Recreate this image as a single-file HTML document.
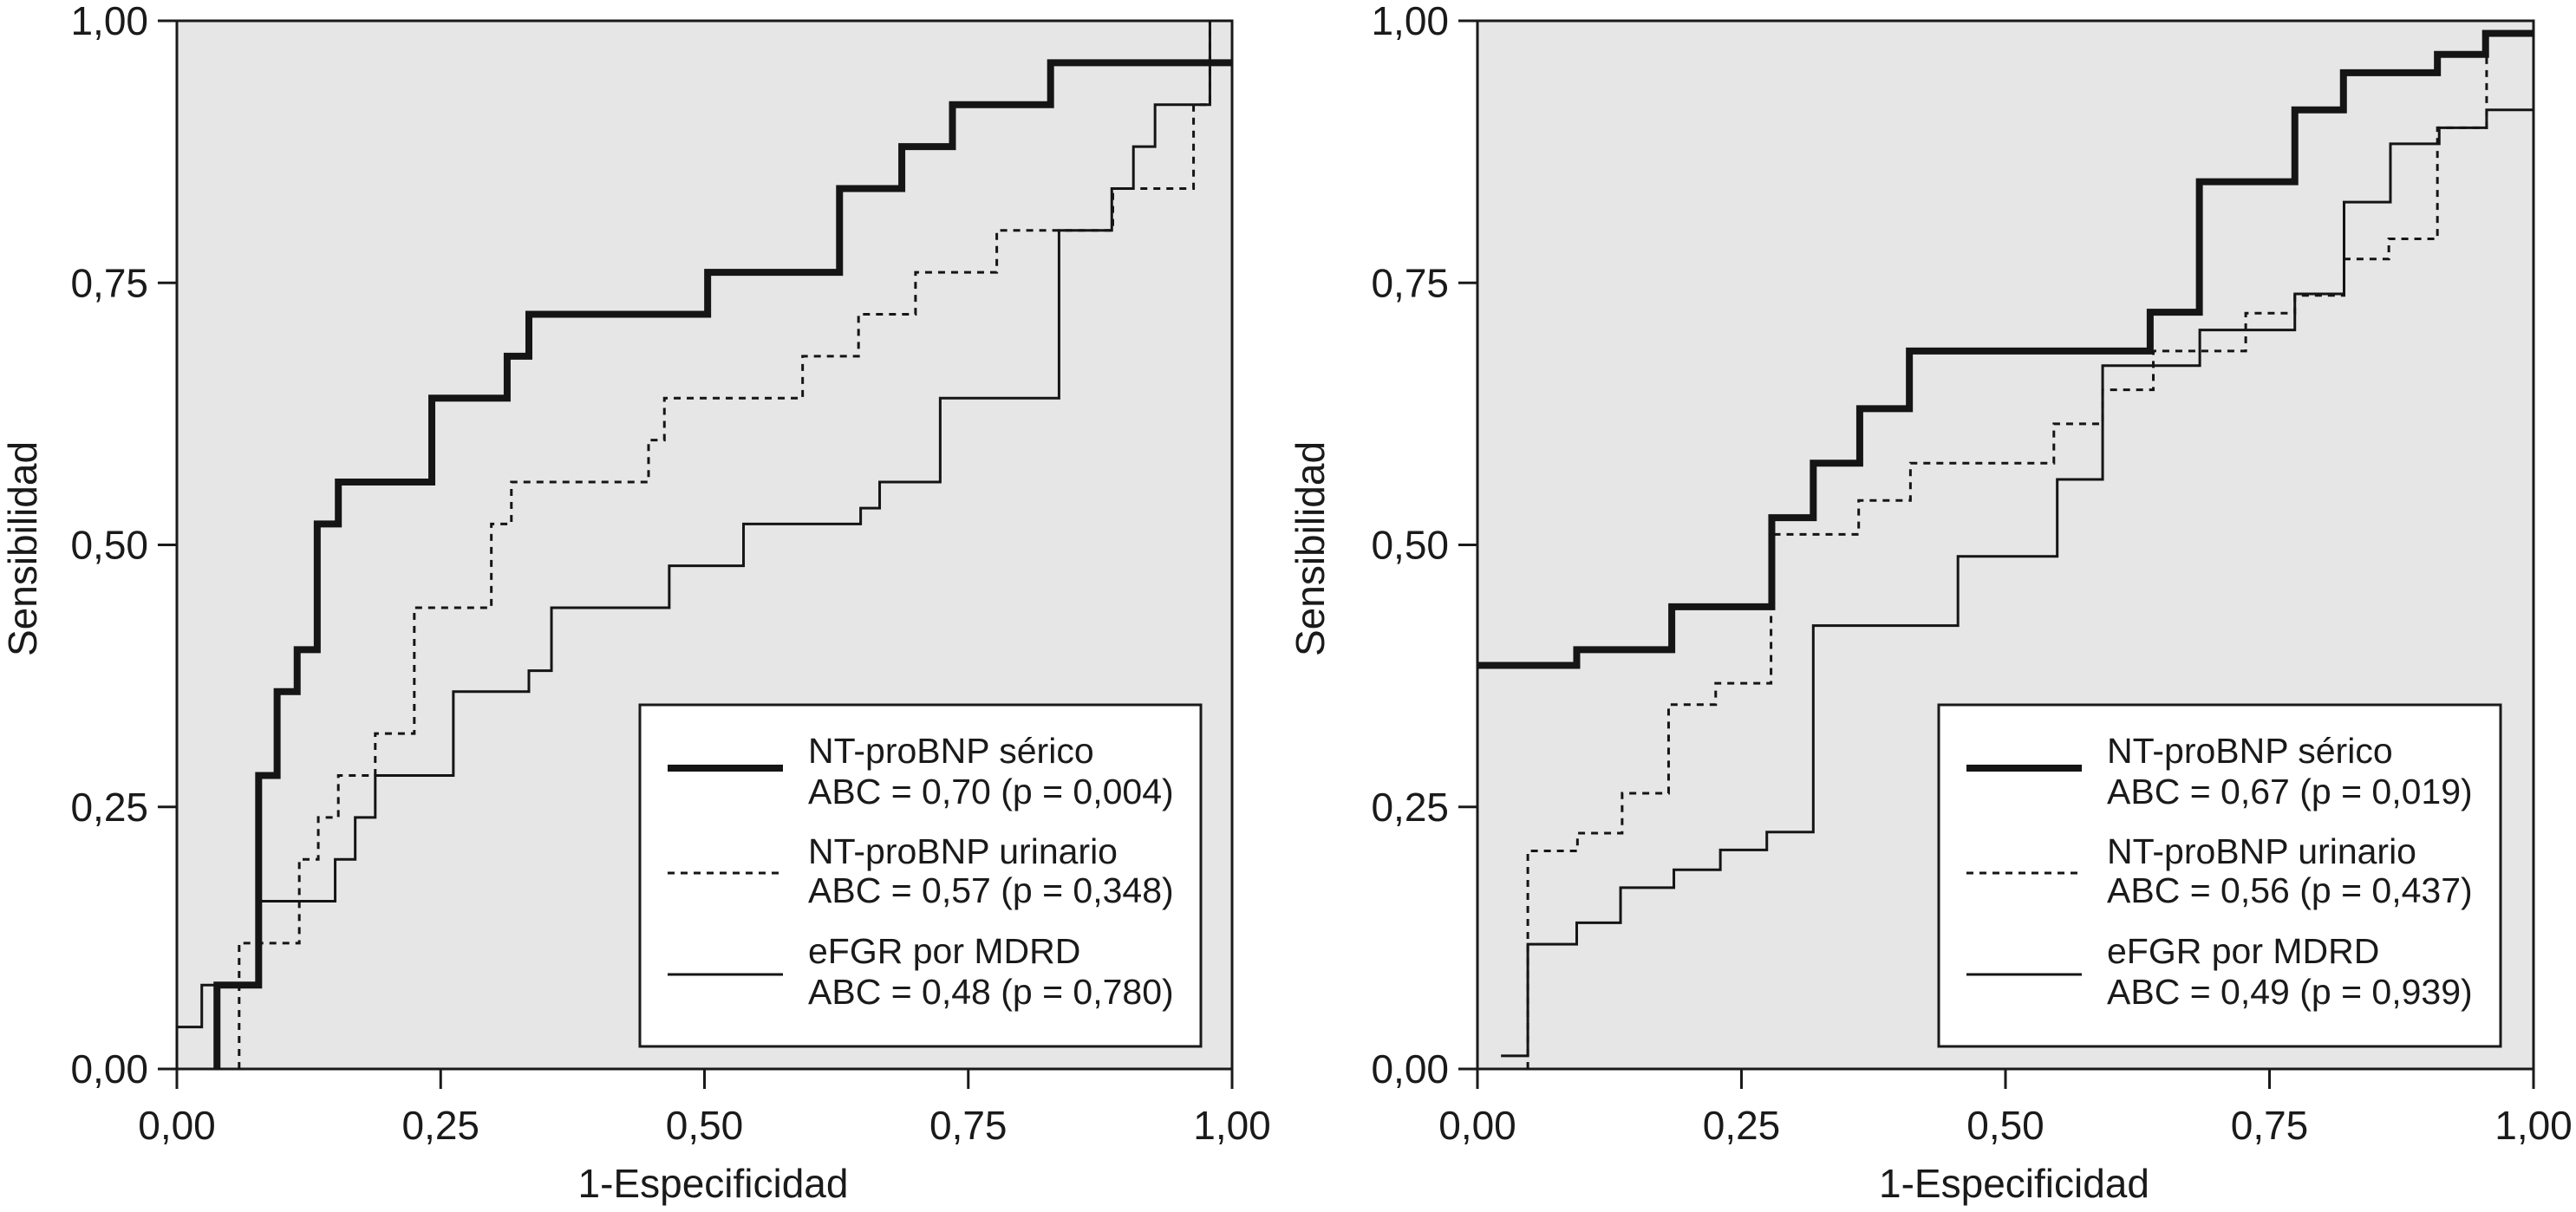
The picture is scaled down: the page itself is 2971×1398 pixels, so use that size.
<!DOCTYPE html>
<html><head><meta charset="utf-8">
<style>
html,body{margin:0;padding:0;background:#fff;}
svg{display:block;font-family:"Liberation Sans",Arial,sans-serif;}
</style></head>
<body>
<svg id="chart" width="2971" height="1398" viewBox="0 0 2971 1398" xmlns="http://www.w3.org/2000/svg"></svg>
<script>
// ---- Data (fractions) ----
const tickValues = [0, 0.25, 0.5, 0.75, 1];
const tickLabels = ["0,00", "0,25", "0,50", "0,75", "1,00"];

// Left panel
const L_sericoX = [0.038,0.0775,0.095,0.114,0.133,0.153,0.2416,0.313,0.3336,0.503,0.628,0.687,0.735,0.828];
const L_sericoY = [0.08,0.28,0.36,0.40,0.52,0.56,0.64,0.68,0.72,0.76,0.84,0.88,0.92,0.96];
const L_urinX = [0.059,0.116,0.134,0.153,0.188,0.225,0.298,0.317,0.447,0.462,0.593,0.646,0.70,0.777,0.887,0.9635,0.979];
const L_urinY = [0.12,0.20,0.24,0.28,0.32,0.44,0.52,0.56,0.60,0.64,0.68,0.72,0.76,0.80,0.84,0.92,1.0];
const L_efgrX = [0.0,0.0236,0.0775,0.150,0.169,0.188,0.262,0.3336,0.355,0.4666,0.537,0.648,0.666,0.7234,0.836,0.886,0.9065,0.927,0.979];
const L_efgrY = [0.04,0.08,0.16,0.20,0.24,0.28,0.36,0.38,0.44,0.48,0.52,0.535,0.56,0.64,0.80,0.84,0.88,0.92,1.0];

// Right panel
const R_sericoX = [0.0,0.094,0.184,0.2787,0.318,0.362,0.409,0.637,0.6836,0.774,0.820,0.909,0.9546];
const R_sericoY = [0.385,0.40,0.441,0.526,0.578,0.63,0.685,0.722,0.8465,0.915,0.9505,0.968,0.988];
const R_urinX = [0.0477,0.0947,0.137,0.181,0.2256,0.278,0.361,0.41,0.5458,0.592,0.64,0.7275,0.774,0.8206,0.863,0.909,0.9556];
const R_urinY = [0.208,0.225,0.263,0.3476,0.368,0.51,0.5424,0.578,0.6155,0.648,0.685,0.721,0.738,0.7727,0.792,0.898,0.988];
const R_efgrX = [0.0223,0.0477,0.094,0.1355,0.186,0.230,0.274,0.318,0.455,0.549,0.592,0.684,0.774,0.8206,0.8645,0.9107,0.9556];
const R_efgrY = [0.0125,0.119,0.1395,0.173,0.19,0.209,0.226,0.423,0.489,0.5624,0.671,0.705,0.7395,0.827,0.8827,0.898,0.915];

const seriesNames = ["NT-proBNP sérico","NT-proBNP urinario","eFGR por MDRD"];
const L_abc = ["ABC = 0,70 (p = 0,004)","ABC = 0,57 (p = 0,348)","ABC = 0,48 (p = 0,780)"];
const R_abc = ["ABC = 0,67 (p = 0,019)","ABC = 0,56 (p = 0,437)","ABC = 0,49 (p = 0,939)"];

const NS = "http://www.w3.org/2000/svg";
const svg = document.getElementById("chart");
function el(tag, attrs, parent){ const e=document.createElementNS(NS,tag); for(const k in attrs) e.setAttribute(k,attrs[k]); (parent||svg).appendChild(e); return e; }

const styles = [
  {w:8, dash:null},
  {w:3, dash:"8,7"},
  {w:3, dash:null}
];

function panel(id, x0, x1, y0, y1, curves, abc, leg, ytitleX){
  const g = el("g",{});
  
  
  const sx = v => x0 + v*(x1-x0);
  const sy = v => y0 - v*(y0-y1);
  const bg = el("rect",{x:x0,y:y1,width:x1-x0,height:y0-y1,fill:"#e6e6e6",stroke:"#1a1a1a","stroke-width":3},g);
  
  
  tickValues.forEach((t,i)=>{
    const ty = sy(t), tx = sx(t);
    const a = el("line",{x1:x0-22,x2:x0,y1:ty,y2:ty,stroke:"#1a1a1a","stroke-width":3},g);
    
    
    const b = el("line",{x1:tx,x2:tx,y1:y0,y2:y0+23,stroke:"#1a1a1a","stroke-width":3},g);
    
    
    const yl = el("text",{x:x0-33,y:ty+16,"font-size":46,"text-anchor":"end",fill:"#1a1a1a"},g);
    yl.textContent = tickLabels[i];
    
    
    const xl = el("text",{x:tx,y:y0+81,"font-size":46,"text-anchor":"middle",fill:"#1a1a1a"},g);
    xl.textContent = tickLabels[i];
    
    
  });
  const xt = el("text",{x:(x0+x1)/2+10,y:1381,"font-size":46,"text-anchor":"middle",fill:"#1a1a1a"},g);
  xt.textContent = "1-Especificidad";
  
  
  const ytx = ytitleX, yty = 633;
  const yt = el("text",{x:ytx,y:yty,"font-size":46,"text-anchor":"middle",fill:"#1a1a1a",transform:`rotate(-90 ${ytx} ${yty})`},g);
  yt.textContent = "Sensibilidad";
  
  
  curves.forEach((c,k)=>{
    const xs=c[0], ys=c[1], startY=c[2], endX=c[3];
    let d = `M${sx(xs[0])},${sy(startY)}`;
    for(let i=0;i<xs.length;i++){
      d += ` L${sx(xs[i])},${sy(ys[i])}`;
      const nx = i+1<xs.length ? xs[i+1] : endX;
      d += ` L${sx(nx)},${sy(ys[i])}`;
    }
    const p = el("path",{d:d,fill:"none",stroke:"#151515","stroke-width":styles[k].w,"stroke-linejoin":"miter"},g);
    if(styles[k].dash) p.setAttribute("stroke-dasharray",styles[k].dash);
    
    
  });
  const lg = el("g",{},g);
  
  
  el("rect",{x:leg.x,y:813,width:leg.w,height:394,fill:"#fff",stroke:"#1a1a1a","stroke-width":3},lg);
  const lineYs=[886,1007,1124], textYs=[[880,927],[996,1041],[1111,1158]];
  for(let k=0;k<3;k++){
    const ln = el("line",{x1:leg.x+32,x2:leg.x+165,y1:lineYs[k],y2:lineYs[k],stroke:"#151515","stroke-width":styles[k].w},lg);
    if(styles[k].dash) ln.setAttribute("stroke-dasharray",styles[k].dash);
    
    
    const t1 = el("text",{x:leg.x+194,y:textYs[k][0],"font-size":41,fill:"#1a1a1a"},lg);
    t1.textContent = seriesNames[k];
    
    
    const t2 = el("text",{x:leg.x+194,y:textYs[k][1],"font-size":41,fill:"#1a1a1a"},lg);
    t2.textContent = abc[k];
    
    
  }
}

panel("left-panel",204,1421,1233,24,
  [[L_sericoX,L_sericoY,0,1.0],[L_urinX,L_urinY,0,1.0],[L_efgrX,L_efgrY,0,1.0]],
  L_abc,{x:738,w:647},42);
panel("right-panel",1704,2922,1233,24,
  [[R_sericoX,R_sericoY,0.385,1.0],[R_urinX,R_urinY,0,1.0],[R_efgrX,R_efgrY,0.0125,1.0]],
  R_abc,{x:2236,w:648},1527);
</script>
</body></html>
